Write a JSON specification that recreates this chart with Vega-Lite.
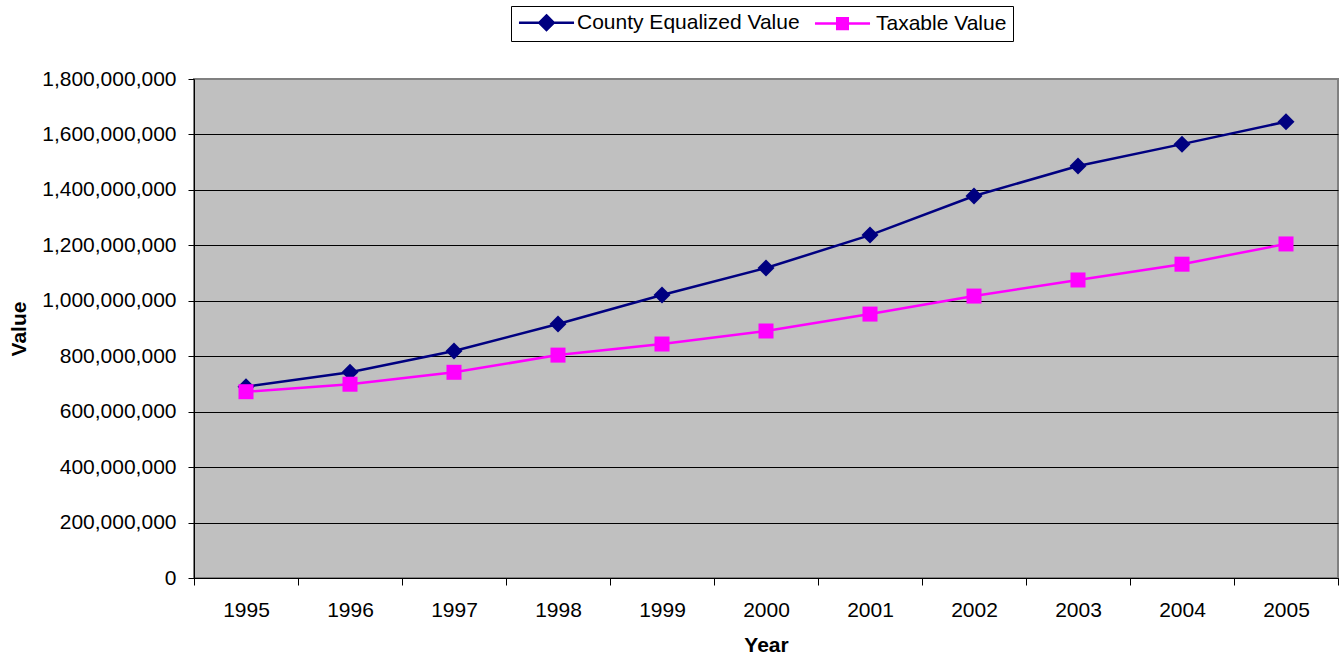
{
  "$schema": "https://vega.github.io/schema/vega-lite/v6.json",
  "autosize": "none",
  "width": 1144,
  "height": 499,
  "padding": {"left": 194, "top": 79, "right": 1, "bottom": 79},
  "background": "white",
  "config": {
    "font": "Liberation Sans",
    "view": {"fill": "#C0C0C0", "stroke": "#808080", "strokeWidth": 2},
    "axis": {
      "labelFont": "Liberation Sans",
      "labelFontSize": 21,
      "labelColor": "black",
      "titleFont": "Liberation Sans",
      "titleFontSize": 21,
      "titleFontWeight": "bold",
      "titleColor": "black",
      "domainColor": "black",
      "domainWidth": 1,
      "tickColor": "black",
      "tickWidth": 1
    }
  },
  "data": {
    "values": [
      {"Year": "1995", "series": "County Equalized Value", "value": 690000000},
      {"Year": "1996", "series": "County Equalized Value", "value": 742000000},
      {"Year": "1997", "series": "County Equalized Value", "value": 819000000},
      {"Year": "1998", "series": "County Equalized Value", "value": 916000000},
      {"Year": "1999", "series": "County Equalized Value", "value": 1021000000},
      {"Year": "2000", "series": "County Equalized Value", "value": 1118000000},
      {"Year": "2001", "series": "County Equalized Value", "value": 1237000000},
      {"Year": "2002", "series": "County Equalized Value", "value": 1378000000},
      {"Year": "2003", "series": "County Equalized Value", "value": 1486000000},
      {"Year": "2004", "series": "County Equalized Value", "value": 1565000000},
      {"Year": "2005", "series": "County Equalized Value", "value": 1646000000},
      {"Year": "1995", "series": "Taxable Value", "value": 672000000},
      {"Year": "1996", "series": "Taxable Value", "value": 699000000},
      {"Year": "1997", "series": "Taxable Value", "value": 742000000},
      {"Year": "1998", "series": "Taxable Value", "value": 804000000},
      {"Year": "1999", "series": "Taxable Value", "value": 844000000},
      {"Year": "2000", "series": "Taxable Value", "value": 891000000},
      {"Year": "2001", "series": "Taxable Value", "value": 952000000},
      {"Year": "2002", "series": "Taxable Value", "value": 1017000000},
      {"Year": "2003", "series": "Taxable Value", "value": 1075000000},
      {"Year": "2004", "series": "Taxable Value", "value": 1132000000},
      {"Year": "2005", "series": "Taxable Value", "value": 1205000000}
    ]
  },
  "encoding": {
    "x": {
      "field": "Year",
      "type": "ordinal",
      "scale": {"type": "band", "paddingInner": 0, "paddingOuter": 0},
      "axis": {
        "title": "Year",
        "labelAngle": 0,
        "tickBand": "extent",
        "tickSize": 7,
        "labelPadding": 14,
        "titlePadding": 14,
        "grid": false
      }
    },
    "y": {
      "field": "value",
      "type": "quantitative",
      "scale": {"domain": [0, 1800000000], "nice": false, "zero": true},
      "axis": {
        "title": "Value",
        "values": [0, 200000000, 400000000, 600000000, 800000000, 1000000000, 1200000000, 1400000000, 1600000000, 1800000000],
        "format": ",d",
        "tickSize": 6,
        "labelPadding": 12,
        "titlePadding": 12,
        "grid": true,
        "gridColor": {"condition": {"test": "datum.value >= 1800000000", "value": "#808080"}, "value": "black"},
        "gridWidth": 1,
        "gridOpacity": 1
      }
    },
    "color": {
      "field": "series",
      "type": "nominal",
      "scale": {"domain": ["County Equalized Value", "Taxable Value"], "range": ["#000080", "#FF00FF"]},
      "legend": {
        "title": null,
        "orient": "none",
        "direction": "horizontal",
        "legendX": 317,
        "legendY": -73,
        "padding": 6,
        "strokeColor": "black",
        "fillColor": "white",
        "labelFont": "Liberation Sans",
        "labelFontSize": 21,
        "labelColor": "black",
        "labelLimit": 400,
        "symbolSize": 289,
        "symbolOffset": 19,
        "labelOffset": 20,
        "columnPadding": 9,
        "encode": {
          "symbols": {
            "update": {
              "shape": {"signal": "datum.value === 'Taxable Value' ? 'M-3.24,0L3.24,0M-0.62,-0.62L0.62,-0.62L0.62,0.62L-0.62,0.62Z' : 'M-3.24,0L3.24,0M0,-0.85L0.85,0L0,0.85L-0.85,0Z'"},
              "fill": {"scale": "color", "field": "value"},
              "stroke": {"scale": "color", "field": "value"},
              "strokeWidth": {"value": 2.5},
              "opacity": {"value": 1},
              "fillOpacity": {"value": 1},
              "strokeOpacity": {"value": 1}
            }
          },
          "labels": {
            "update": {
              "dx": {"signal": "datum.value === 'Taxable Value' ? 3 : 0"}
            }
          }
        }
      }
    }
  },
  "layer": [
    {
      "mark": {"type": "line", "strokeWidth": 2.5},
      "encoding": {}
    },
    {
      "mark": {"type": "point", "filled": true, "opacity": 1},
      "encoding": {
        "shape": {"condition": {"test": "datum.series === 'Taxable Value'", "value": "square"}, "value": "diamond"},
        "size": {"condition": {"test": "datum.series === 'Taxable Value'", "value": 225}, "value": 289}
      }
    }
  ]
}
